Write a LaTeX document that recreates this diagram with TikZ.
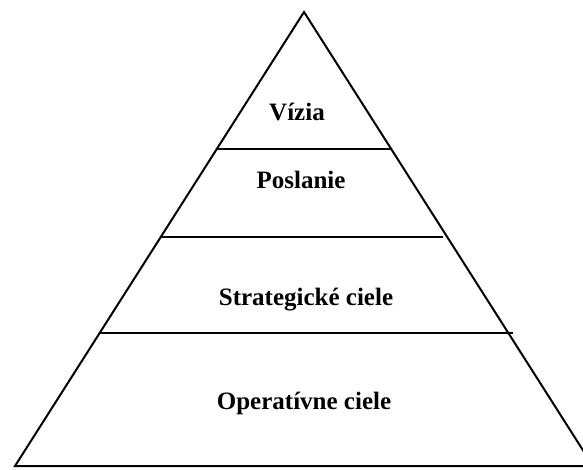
\documentclass[tikz,border=0pt]{standalone}
\usepackage{fontspec}
\setmainfont{Liberation Serif}
\usepackage{tikz}

\begin{document}
\begin{tikzpicture}[
x=1pt,y=-1pt,
tier/.style={line width=2pt,line join=miter},
label/.style={font=\bfseries\fontsize{25}{30}\selectfont,anchor=base,inner sep=0pt}]
    % picture frame
    \useasboundingbox (0,0) rectangle (583,469);
    \clip (0,0) rectangle (583,469);

    % Pyramid corners
    \draw
  	(304,12) coordinate (apex)
  	(15,466) coordinate (left)
  	(593,466) coordinate (right);

  	% Dividing lines
  	\coordinate (a1) at (217,149);
  	\coordinate (a2) at (391,149);
  	\coordinate (b1) at (161,237);
  	\coordinate (b2) at (443,237);
  	\coordinate (c1) at (100,333);
  	\coordinate (c2) at (513,333);

  	\draw[tier] (left) -- (apex) -- (right) -- cycle;
  	\draw[tier] (a1) -- (a2);
  	\draw[tier] (b1) -- (b2);
  	\draw[tier] (c1) -- (c2);

  	% Levels
  	\node[label] (vizia) at (297,120) {Vízia};
  	\node[label] (poslanie) at (301,188) {Poslanie};
  	\node[label] (strategicke) at (306,305) {Strategické ciele};
  	\node[label] (operativne) at (304,409) {Operatívne ciele};

\end{tikzpicture}
\end{document}
